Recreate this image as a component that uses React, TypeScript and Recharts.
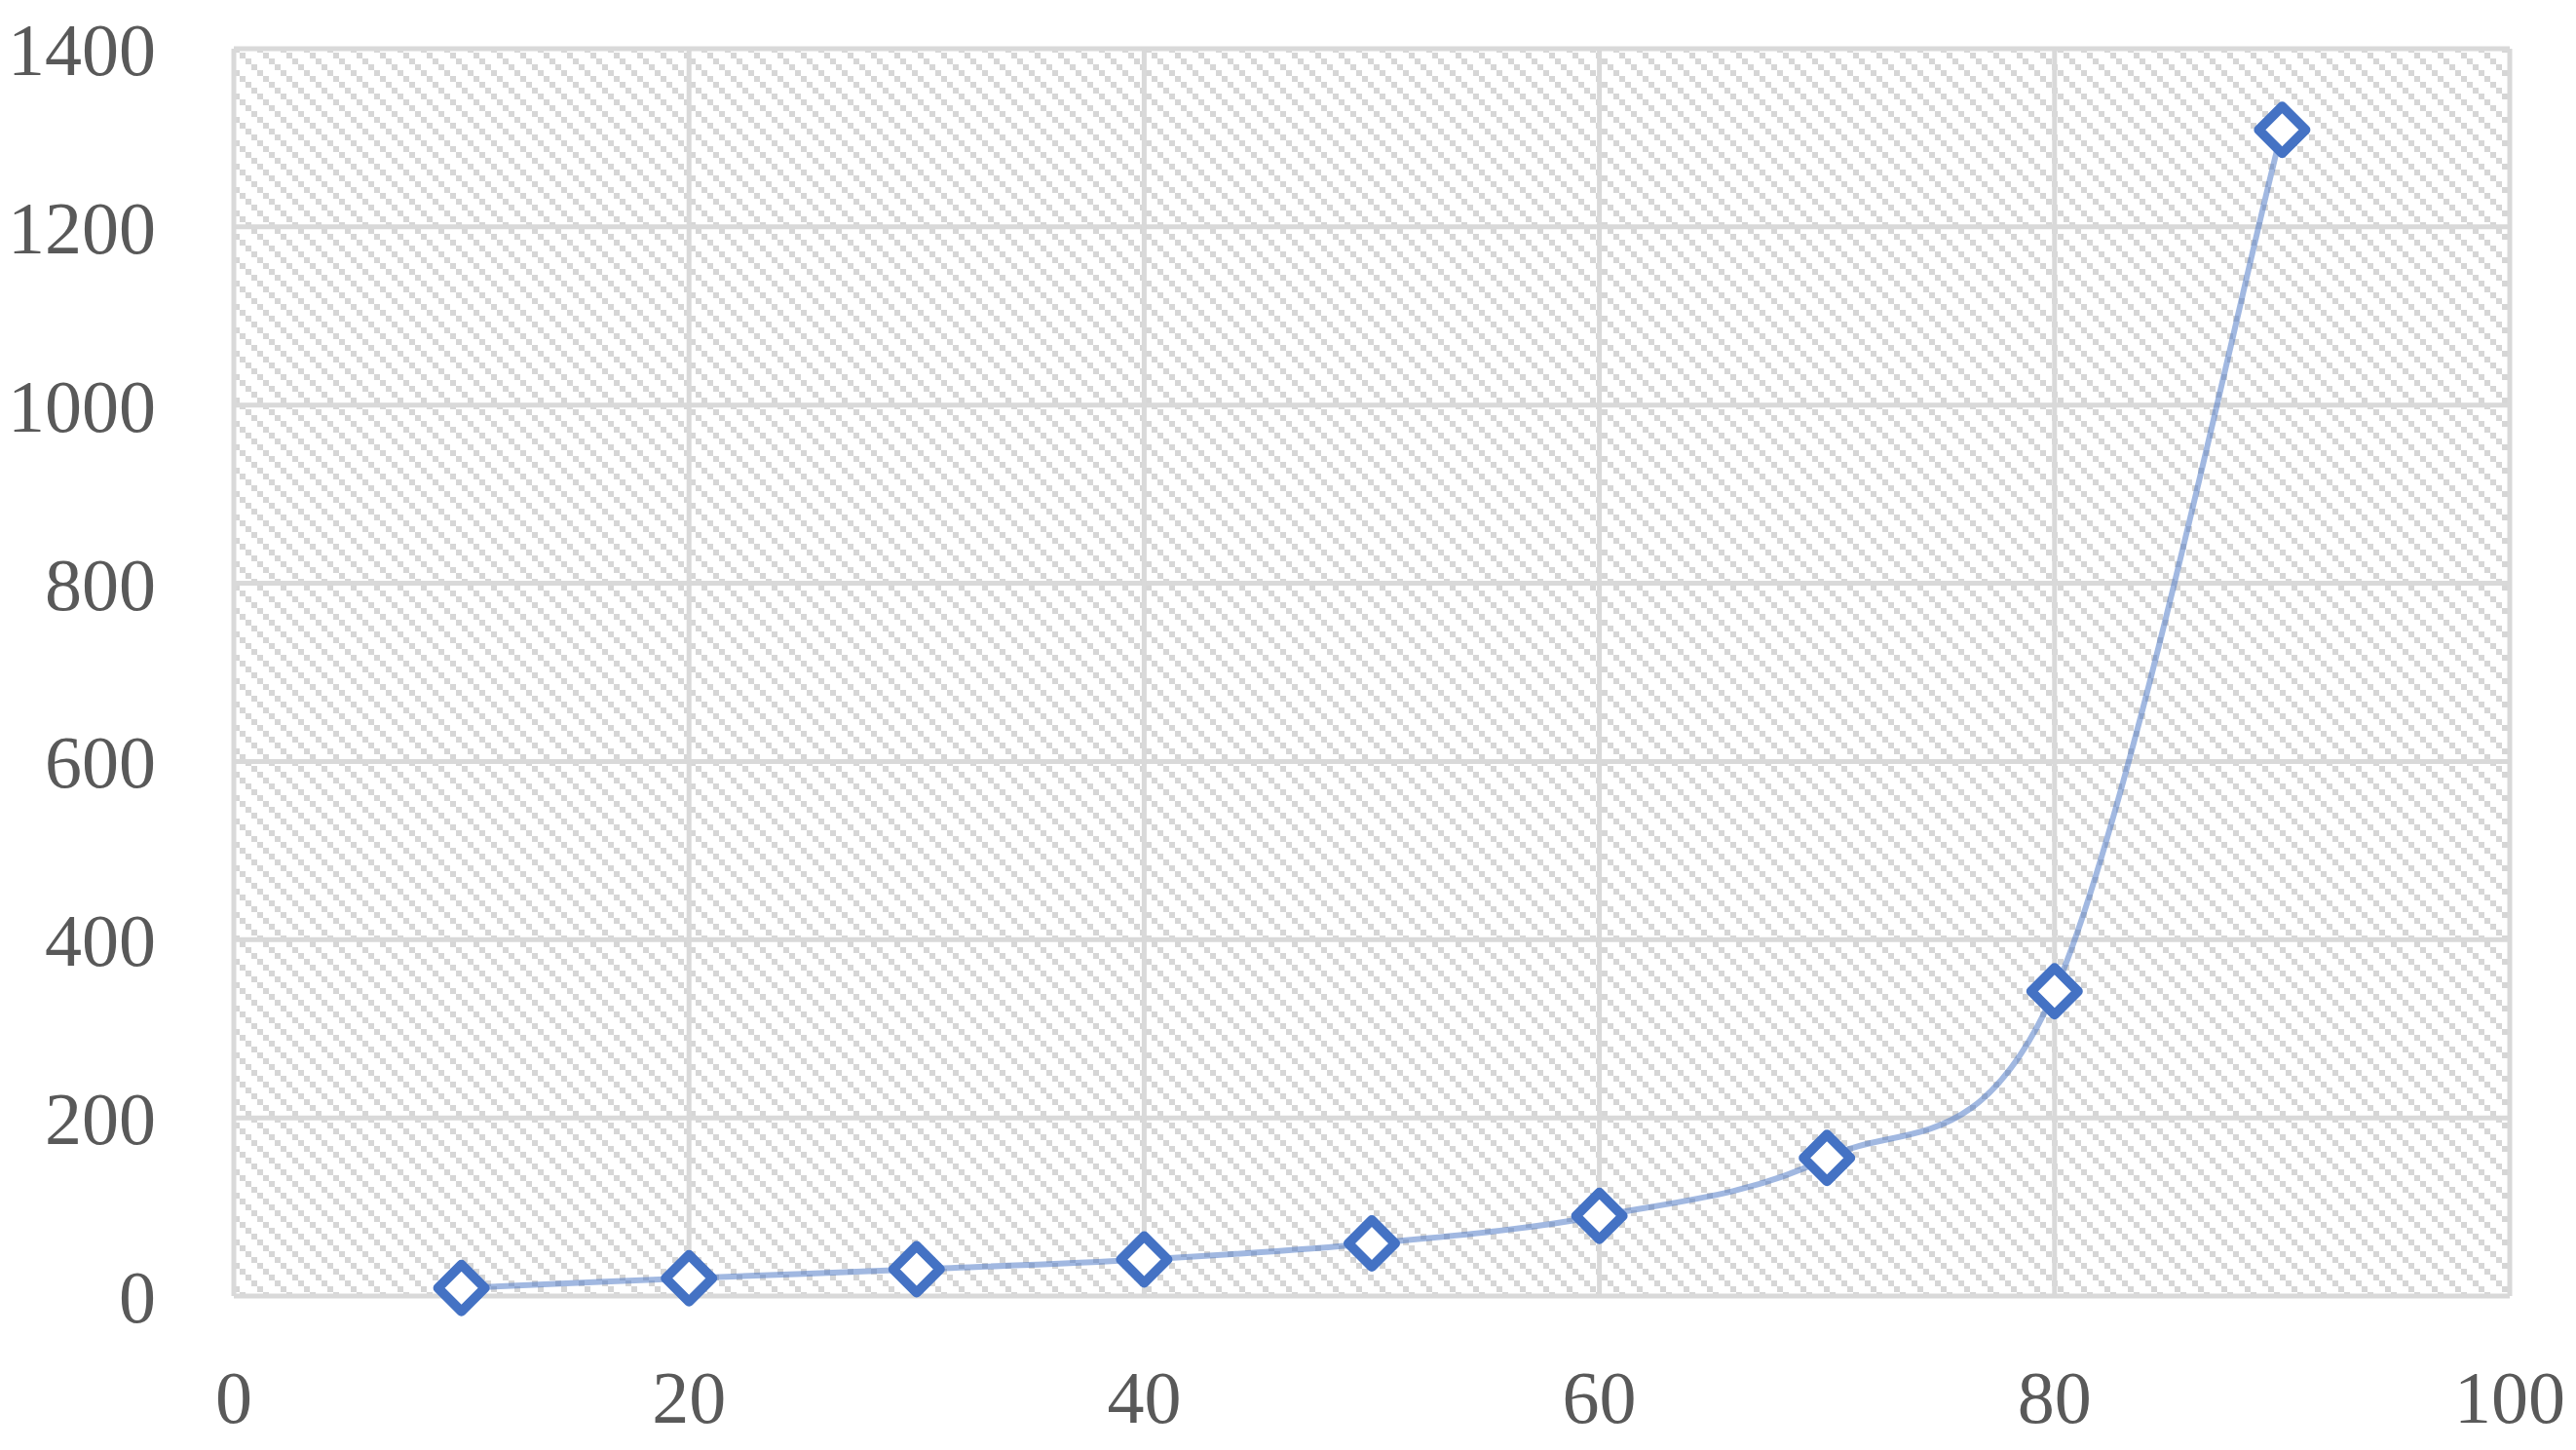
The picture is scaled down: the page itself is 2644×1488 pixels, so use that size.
import { CartesianGrid, Line, LineChart, XAxis, YAxis } from "recharts";

const xValues = [10, 20, 30, 40, 50, 60, 70, 80, 90];
const yValues = [9, 20, 30, 41, 59, 90, 155, 342, 1309];
const xTicks = [0, 20, 40, 60, 80, 100];
const yTicks = [0, 200, 400, 600, 800, 1000, 1200, 1400];

const chartData = xValues.map((x, i) => ({ x, y: yValues[i] }));

const axisColor = "#595959";
const gridColor = "#D9D9D9";
const markerColor = "#4472C4";
const fontFamily = "'Liberation Serif', 'Times New Roman', serif";

// Catmull-Rom style smoothing, close to what a spreadsheet "smoothed line" draws
function smoothCurve(context: any) {
  let pts: Array<[number, number]> = [];
  return {
    areaStart() {},
    areaEnd() {},
    lineStart() {
      pts = [];
    },
    point(x: number, y: number) {
      pts.push([+x, +y]);
    },
    lineEnd() {
      if (pts.length === 0) return;
      context.moveTo(pts[0][0], pts[0][1]);
      for (let i = 0; i < pts.length - 1; i++) {
        const p0 = pts[i - 1] ?? pts[i];
        const p1 = pts[i];
        const p2 = pts[i + 1];
        const p3 = pts[i + 2] ?? pts[i + 1];
        context.bezierCurveTo(
          p1[0] + (p2[0] - p0[0]) / 6,
          p1[1] + (p2[1] - p0[1]) / 6,
          p2[0] - (p3[0] - p1[0]) / 6,
          p2[1] - (p3[1] - p1[1]) / 6,
          p2[0],
          p2[1],
        );
      }
    },
  };
}

function Diamond(props: any) {
  const { cx, cy, index } = props;
  if (cx == null || cy == null) return <g key={`d-${index}`} />;
  const r = 24;
  return (
    <path
      key={`d-${index}`}
      d={`M${cx},${cy - r} L${cx + r},${cy} L${cx},${cy + r} L${cx - r},${cy} Z`}
      fill="#FFFFFF"
      stroke={markerColor}
      strokeWidth={10}
      strokeLinejoin="round"
    />
  );
}

export default function App() {
  return (
    <div style={{ position: "absolute", left: 0, top: 0, width: 2644, height: 1488, background: "#FFFFFF" }}>
      <LineChart width={2644} height={1488} data={chartData} margin={{ top: 50, right: 68, left: 0, bottom: 0 }}>
        <defs>
          <pattern id="hatch" width={24} height={24} patternUnits="userSpaceOnUse">
            <rect x={0} y={0} width={6} height={6} fill="#D6D6D6" />
            <rect x={6} y={6} width={6} height={6} fill="#D6D6D6" />
            <rect x={12} y={12} width={6} height={6} fill="#D6D6D6" />
            <rect x={18} y={18} width={6} height={6} fill="#D6D6D6" />
          </pattern>
        </defs>
        <CartesianGrid
          stroke={gridColor}
          strokeWidth={5}
          fill="url(#hatch)"
          fillOpacity={1}
          horizontalValues={yTicks}
          verticalValues={xTicks}
        />
        <XAxis
          dataKey="x"
          type="number"
          domain={[0, 100]}
          ticks={xTicks}
          axisLine={false}
          tickLine={false}
          tickSize={0}
          tickMargin={76}
          height={158}
          tick={{ fill: axisColor, fontSize: 76, fontFamily }}
        />
        <YAxis
          type="number"
          domain={[0, 1400]}
          ticks={yTicks}
          axisLine={false}
          tickLine={false}
          tickSize={0}
          tickMargin={80}
          width={240}
          tick={{ fill: axisColor, fontSize: 76, fontFamily }}
        />
        <Line
          dataKey="y"
          type={smoothCurve as any}
          stroke={markerColor}
          strokeOpacity={0.5}
          strokeWidth={6}
          dot={Diamond}
          activeDot={false}
          isAnimationActive={false}
        />
      </LineChart>
    </div>
  );
}
